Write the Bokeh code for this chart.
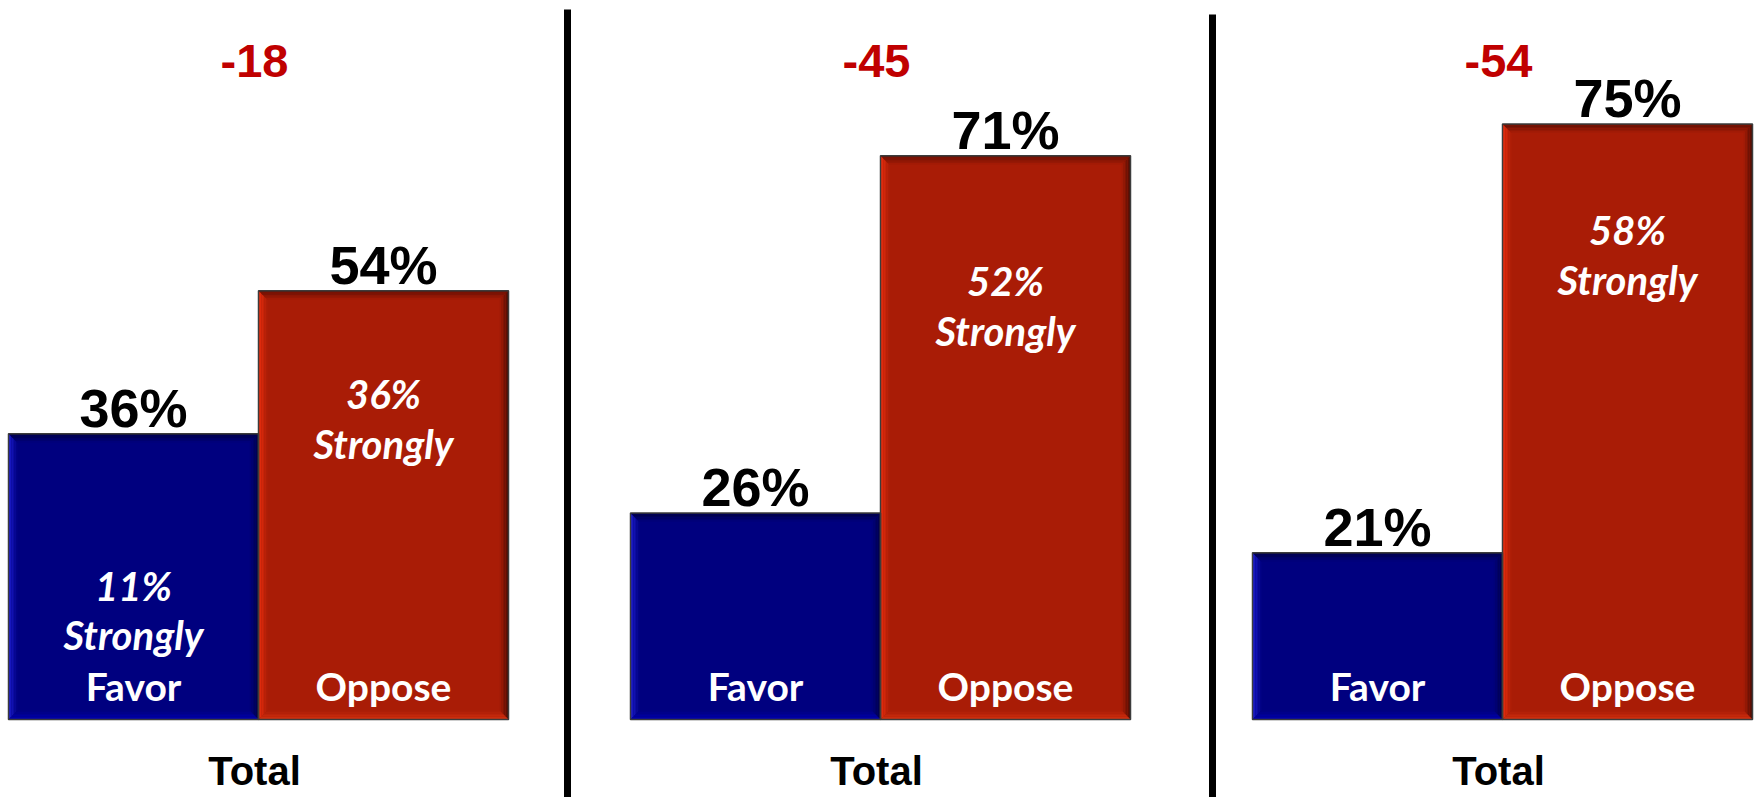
from bokeh.plotting import figure
from bokeh.models import Range1d
from bokeh.core.properties import value
from bokeh.embed import file_html
from bokeh.resources import INLINE

# ---------------- data ----------------
groups = ["Total", "Total", "Total"]
favor = [36, 26, 21]
oppose = [54, 71, 75]
strongly_favor = [11, None, None]
strongly_oppose = [36, 52, 58]
net = [-18, -45, -54]
bar_names = ["Favor", "Oppose"]

# ---------------- layout ----------------
W, H = 1755, 797
X0, X1 = 0, 1755            # x data units ~ pixels of the original slide
PANEL_LEFT = 8
PANEL_STEP = 622
BAR_W = 250
BASE_PX = 719               # page row of the 0% baseline
PPU = 7.94                  # pixels per percentage point
Y_TOP = BASE_PX / PPU
Y_BOT = (BASE_PX - H) / PPU
DIVIDERS_X = [567, 1212]
DIVIDERS_TOP_PX = [9, 14]
STRONG_OPP_OFFSET_PX = [118, 140, 121]   # baseline of "xx%" below the bar top
BASELINE_FIX = 0.37                       # renderer places alphabetic baseline this * size lower


def dx(n):
    return n * (X1 - X0) / W


def dy(n):
    return n / PPU


def row(py):
    return (BASE_PX - py) / PPU


def fix(size):
    return dy(BASELINE_FIX * size)


BLUE = "#00007f"
RED = "#a91c06"
BLUE_EDGES = {"left": "#2020d8", "top": "#00003a", "right": "#000040", "bottom": "#0000b4"}
RED_EDGES = {"left": "#f4300e", "top": "#560c02", "right": "#420a02", "bottom": "#d83210"}


def mix(c1, c2, t):
    a = [int(c1[i:i + 2], 16) for i in (1, 3, 5)]
    b = [int(c2[i:i + 2], 16) for i in (1, 3, 5)]
    return "#%02x%02x%02x" % tuple(round(a[k] + (b[k] - a[k]) * t) for k in range(3))


p = figure(width=W, height=H, x_range=Range1d(X0, X1), y_range=Range1d(Y_BOT, Y_TOP),
           output_backend="svg", toolbar_location=None, min_border=0)
p.axis.visible = False
p.grid.visible = False
p.outline_line_color = None
p.background_fill_color = "white"
p.border_fill_color = "white"

# bars
lefts, rights, tops, mains, edges = [], [], [], [], []
for i in range(len(groups)):
    base = PANEL_LEFT + i * PANEL_STEP
    for j, (v, col, ed) in enumerate([(favor[i], BLUE, BLUE_EDGES), (oppose[i], RED, RED_EDGES)]):
        lefts.append(base + j * BAR_W)
        rights.append(base + (j + 1) * BAR_W)
        tops.append(v)
        mains.append(col)
        edges.append(ed)

p.quad(left=lefts, right=rights, top=tops, bottom=[0] * len(tops), fill_color=mains, line_color=None)

# bevel
xs, ys, cs = [], [], []
N, BEV = 6, 9.0
for l, r, t, m, ed in zip(lefts, rights, tops, mains, edges):
    b = 0
    for k in range(N):
        ax, bx = dx(BEV * k / N), dx(BEV * (k + 1) / N)
        ay, by = dy(BEV * k / N), dy(BEV * (k + 1) / N)
        tt = ((k + 0.5) / N) ** 0.9
        xs.append([l + ax, l + ax, l + bx, l + bx]); ys.append([b + ay, t - ay, t - by, b + by]); cs.append(mix(ed["left"], m, tt))
        xs.append([l + ax, r - ax, r - bx, l + bx]); ys.append([t - ay, t - ay, t - by, t - by]); cs.append(mix(ed["top"], m, tt))
        xs.append([r - ax, r - ax, r - bx, r - bx]); ys.append([t - ay, b + ay, b + by, t - by]); cs.append(mix(ed["right"], m, tt))
        xs.append([l + ax, r - ax, r - bx, l + bx]); ys.append([b + ay, b + ay, b + by, b + by]); cs.append(mix(ed["bottom"], m, tt))
p.patches(xs=xs, ys=ys, fill_color=cs, line_color=None)

p.quad(left=lefts, right=rights, top=tops, bottom=[0] * len(tops), fill_color=None,
       line_color="#3c3c3c", line_width=1.5)

centers = [(l + r) / 2 for l, r in zip(lefts, rights)]

# value labels above bars
VS = 54
p.text(x=centers, y=[t + dy(6) + fix(VS) for t in tops], text=["%d%%" % t for t in tops],
       text_font=value("Liberation Sans"), text_font_style="bold", text_font_size="%dpx" % VS,
       text_color="black", text_align="center", text_baseline="alphabetic")

# Favor / Oppose inside bars
WS = 39
p.text(x=centers, y=[dy(19) + fix(WS)] * len(centers), text=bar_names * len(groups),
       text_font=value("Lato"), text_font_style="bold", text_font_size="%dpx" % WS,
       text_color="white", text_align="center", text_baseline="alphabetic")

# strongly labels
IS = 40
sx, sy, st = [], [], []
for i in range(len(groups)):
    fav_c, opp_c = centers[2 * i], centers[2 * i + 1]
    if strongly_favor[i] is not None:
        sx += [fav_c, fav_c]
        sy += [dy(19 + 100), dy(19 + 51)]
        st += ["%d%%" % strongly_favor[i], "Strongly"]
    if strongly_oppose[i] is not None:
        top = oppose[i]
        sx += [opp_c, opp_c]
        sy += [top - dy(STRONG_OPP_OFFSET_PX[i]), top - dy(STRONG_OPP_OFFSET_PX[i] + 50)]
        st += ["%d%%" % strongly_oppose[i], "Strongly"]
p.text(x=sx, y=[v + fix(IS) for v in sy], text=st, text_font=value("Lato"), text_font_style="bold italic",
       text_font_size="%dpx" % IS, text_color="white", text_align="center", text_baseline="alphabetic")

# net labels and group labels
panel_mid = [PANEL_LEFT + i * PANEL_STEP + BAR_W - 4 for i in range(len(groups))]
NS = 47
p.text(x=panel_mid, y=[row(78) + fix(NS)] * len(groups), text=["%d" % n for n in net],
       text_font=value("Liberation Sans"), text_font_style="bold", text_font_size="%dpx" % NS,
       text_color="#c00000", text_align="center", text_baseline="alphabetic")
TS = 40
p.text(x=panel_mid, y=[row(785) + fix(TS)] * len(groups), text=groups,
       text_font=value("Liberation Sans"), text_font_style="bold", text_font_size="%dpx" % TS,
       text_color="black", text_align="center", text_baseline="alphabetic")

# dividers
p.segment(x0=DIVIDERS_X, x1=DIVIDERS_X, y0=[row(t) for t in DIVIDERS_TOP_PX], y1=[Y_BOT - 5] * 2,
          line_color="black", line_width=7)

open("out.html", "w").write(file_html(p, INLINE))
